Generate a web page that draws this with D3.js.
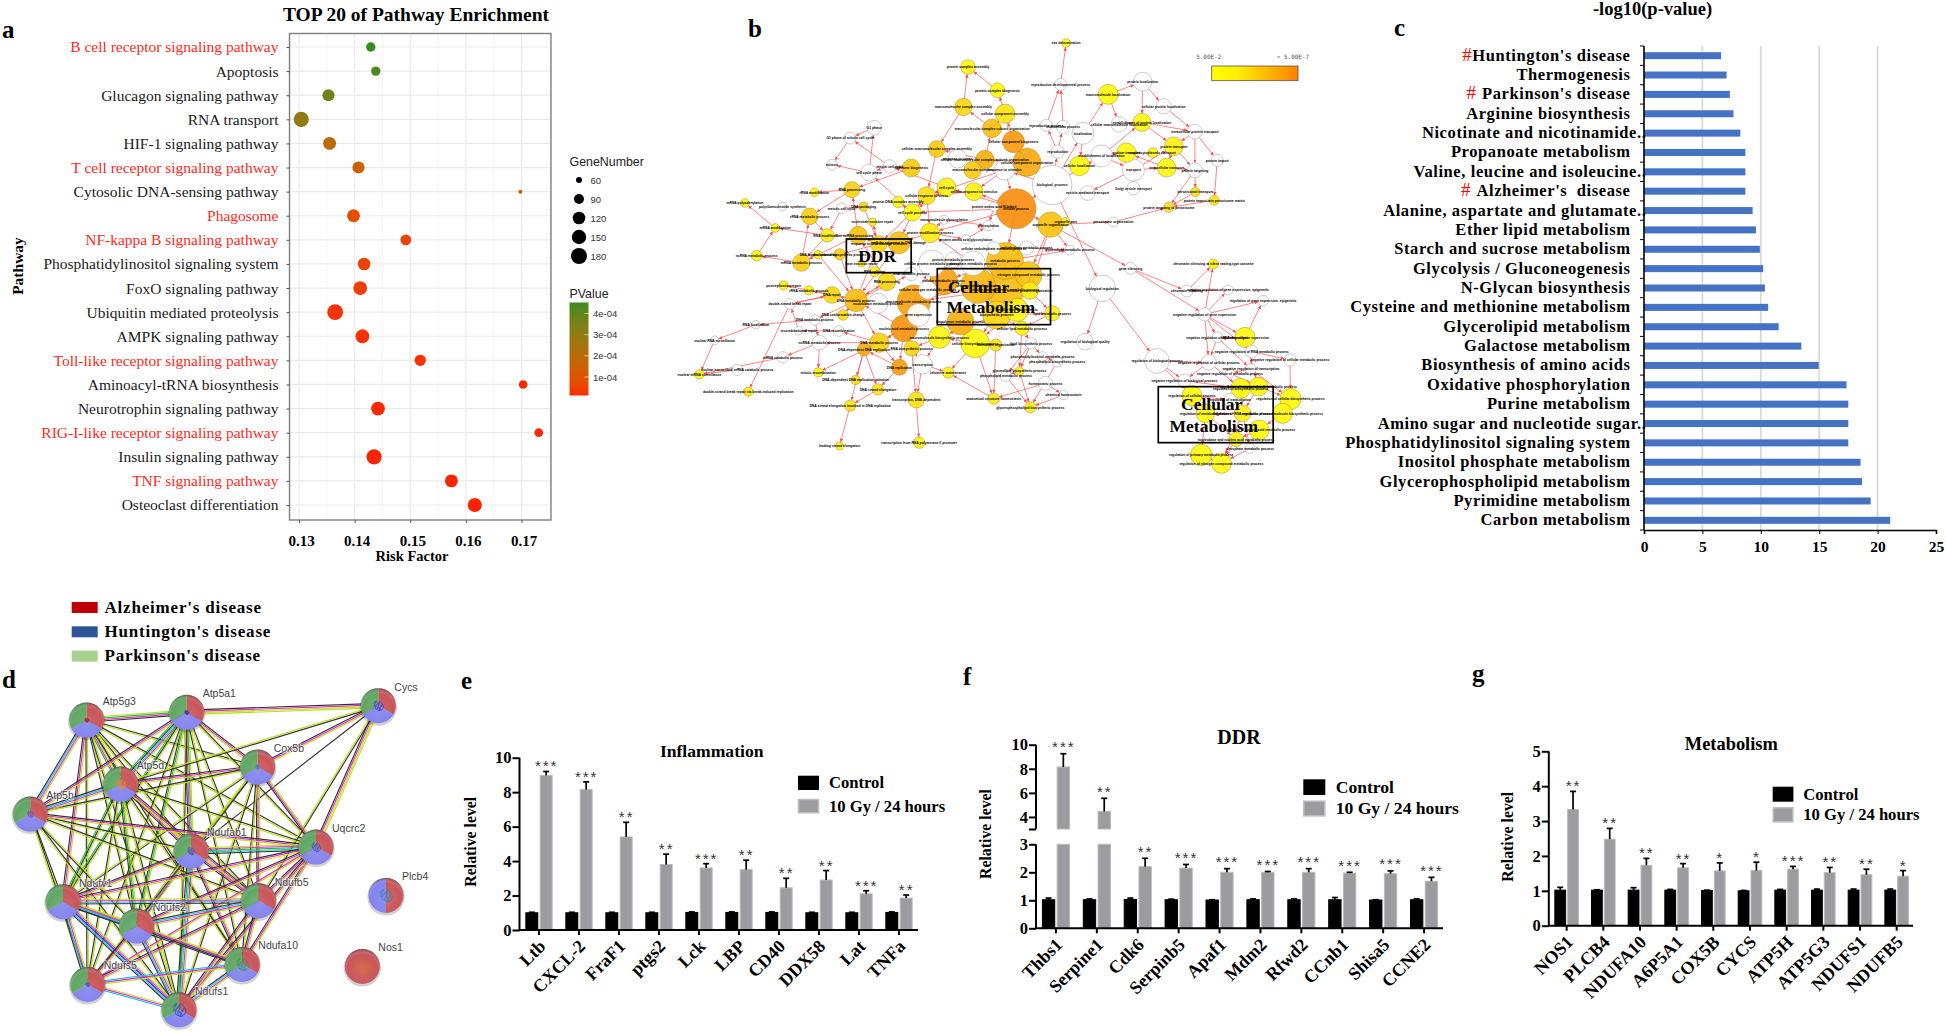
<!DOCTYPE html>
<html>
<head>
<meta charset="utf-8">
<script src="https://cdn.jsdelivr.net/npm/d3@7"></script>
<style>
  html, body { margin: 0; background: #fff; }
  svg { display: block; }
</style>
</head>
<body>
<svg id="fig" width="1946" height="1033"></svg>
<script>
// ---- panel a: pathway enrichment ----
const aPathways = ['B cell receptor signaling pathway', 'Apoptosis', 'Glucagon signaling pathway', 'RNA transport', 'HIF-1 signaling pathway', 'T cell receptor signaling pathway', 'Cytosolic DNA-sensing pathway', 'Phagosome', 'NF-kappa B signaling pathway', 'Phosphatidylinositol signaling system', 'FoxO signaling pathway', 'Ubiquitin mediated proteolysis', 'AMPK signaling pathway', 'Toll-like receptor signaling pathway', 'Aminoacyl-tRNA biosynthesis', 'Neurotrophin signaling pathway', 'RIG-I-like receptor signaling pathway', 'Insulin signaling pathway', 'TNF signaling pathway', 'Osteoclast differentiation'];
const aRedPathways = ['B cell receptor signaling pathway', 'T cell receptor signaling pathway', 'Phagosome', 'NF-kappa B signaling pathway', 'Toll-like receptor signaling pathway', 'RIG-I-like receptor signaling pathway', 'TNF signaling pathway'];
const aRisk = [0.1429, 0.1438, 0.1353, 0.1304, 0.1355, 0.1407, 0.1698, 0.1398, 0.1492, 0.1417, 0.1410, 0.1365, 0.1414, 0.1518, 0.1703, 0.1442, 0.1731, 0.1435, 0.1574, 0.1616];
const aGenes = [85, 85, 115, 165, 125, 115, 45, 125, 100, 120, 140, 175, 140, 105, 80, 140, 80, 165, 125, 145];
const aP = [4.6e-4, 4.3e-4, 3.7e-4, 3.0e-4, 1.9e-4, 1.5e-4, 1.2e-4, 0.8e-4, 0.6e-4, 0.5e-4, 0.4e-4, 0.2e-4, 0.2e-4, 0.2e-4, 0.1e-4, 0.1e-4, 0.1e-4, 0.05e-4, 0.05e-4, 0.03e-4];
const aRiskTicks = [0.13, 0.14, 0.15, 0.16, 0.17];
const aGeneLegend = [60, 90, 120, 150, 180];
const aPTicks = [4e-4, 3e-4, 2e-4, 1e-4];

// ---- panel b: GO network, layout units ----
// [name, layout x, layout y, size, enrichment level (null = not enriched)]
const bNodes = [
  ['sex determination', 941, 129, 13, .1], ['protein complex assembly', 708, 201, 22, .1], ['protein complex biogenesis', 778, 271, 22, .05],
  ['macromolecular complex assembly', 697, 321, 26, .3], ['cellular component assembly', 796, 341, 29, .2], ['macromolecular complex subunit organization', 765, 385, 28, .5],
  ['cellular component biogenesis', 816, 425, 33, .75], ['cellular component organization', 848, 487, 42, .65], ['cellular macromolecular complex assembly', 634, 447, 25, .4],
  ['response to stress', 683, 476, 28, null], ['cellular macromolecular complex subunit organization', 748, 479, 28, .6], ['macromolecular complex', 719, 510, 26, .4],
  ['response to stimulus', 795, 510, 30, null], ['biological_process', 908, 555, 59, null], ['reproductive developmental process', 928, 253, 18, null],
  ['reproductive process', 894, 376, 18, null], ['multicellular process', 934, 381, 20, null], ['reproduction', 921, 455, 20, null],
  ['localization', 981, 400, 33, null], ['establishment of localization', 1025, 468, 33, null], ['macromolecule localization', 1041, 283, 30, .05],
  ['protein localization', 1123, 245, 28, null], ['cellular protein localization', 1173, 319, 23, null], ['cellular macromolecule localization', 1067, 373, 24, null],
  ['establishment of protein localization', 1121, 367, 27, .05], ['intracellular protein transport', 1247, 395, 22, null], ['protein transport', 1197, 439, 28, .1],
  ['nuclear transport', 1084, 458, 29, .05], ['nucleocytoplasmic transport', 1147, 458, 15, .05], ['cellular localization', 973, 497, 30, .05],
  ['transport', 1101, 510, 33, null], ['intracellular transport', 1180, 503, 28, .05], ['protein import', 1300, 481, 18, null],
  ['protein targeting', 1247, 511, 22, null], ['vesicle-mediated transport', 992, 579, 22, null], ['Golgi vesicle transport', 1101, 565, 20, null],
  ['peroxisomal transport', 1248, 576, 14, .25], ['protein import into peroxisome matrix', 1293, 601, 15, .2], ['protein targeting to peroxisome', 1185, 622, 15, .2],
  ['peroxisome organization', 1053, 666, 15, null], ['G1 phase', 485, 383, 22, null], ['G1 phase of mitotic cell cycle', 428, 414, 18, null],
  ['mitosis', 385, 494, 16, null], ['cell cycle phase', 473, 518, 25, null], ['mitotic cell cycle', 522, 499, 20, null],
  ['ribosome biogenesis', 573, 504, 27, .4], ['cell cycle', 657, 562, 28, .1], ['cellular response to stimulus', 722, 575, 27, .1],
  ['cellular response to stress', 610, 587, 27, .25], ['cellular process', 822, 626, 60, .85], ['mRNA polyadenylation', 178, 609, 13, .05],
  ['polyribonucleotide synthesis', 267, 620, 13, null], ['rRNA modification', 343, 577, 13, .05], ['RNA processing', 432, 569, 24, .35],
  ['meiotic cell cycle', 408, 625, 16, null], ['DNA packaging', 460, 620, 14, .3], ['protein-DNA complex assembly', 542, 606, 17, .05],
  ['cell cycle process', 576, 637, 26, .05], ['rRNA metabolic process', 332, 649, 25, .35], ['mRNA modification', 250, 684, 13, .05],
  ['RNA modification', 374, 706, 20, .15], ['ncRNA processing', 447, 706, 27, .45], ['nucleotide excision repair', 481, 666, 12, .1],
  ['response to DNA damage stimulus', 496, 732, 25, .3], ['cellular response to DNA damage', 544, 728, 33, .5], ['protein modification process', 618, 699, 29, .15],
  ['protein amino acid glycosylation', 703, 718, 14, null], ['glycosylation', 756, 677, 16, null], ['macromolecule glycosylation', 651, 659, 14, null],
  ['protein amino acid N-linked', 770, 620, 14, null], ['carbohydrate metabolic process', 847, 744, 21, null], ['metabolic process', 796, 783, 55, .5],
  ['cellular carbohydrate metabolic process', 769, 745, 20, null], ['organelle part', 940, 665, 13, .15], ['organelle organization', 904, 674, 38, .45],
  ['glycerolipid metabolic process', 950, 750, 15, null], ['ncRNA metabolic process', 206, 767, 16, .05], ['mRNA metabolic process', 312, 788, 26, .35],
  ['DNA duplex unwinding', 352, 764, 13, .1], ['nucleobase biosynthetic process', 403, 763, 17, .35], ['base excision repair', 455, 790, 11, .1],
  ['cellular protein metabolic process', 622, 790, 40, null], ['protein metabolic process', 673, 780, 24, null], ['phosphate metabolic process', 720, 790, 37, null],
  ['RNA splicing', 486, 815, 15, .1], ['RNA catabolic process', 573, 822, 20, null], ['RNA processing', 515, 845, 27, .3],
  ['cellular metabolic process', 650, 843, 42, .7], ['primary metabolic process', 732, 858, 52, .55], ['cellular macromolecule metabolic process', 796, 868, 58, .5],
  ['nitrogen compound metabolic process', 852, 825, 40, .45], ['cellular protein organization', 855, 872, 26, .15], ['postreplication repair', 270, 856, 14, .1],
  ['tRNA metabolic process', 330, 871, 14, .1], ['DNA repair', 385, 885, 25, .3], ['DNA metabolic process', 442, 901, 34, .5],
  ['nucleobase metabolic process', 494, 910, 30, null], ['macromolecule metabolic process', 579, 905, 50, .7], ['cellular nitrogen metabolic process', 612, 870, 28, null],
  ['gene expression', 590, 945, 34, null], ['nucleic acid metabolic process', 556, 985, 40, .8], ['biopolymer metabolic process', 690, 965, 40, .6],
  ['biosynthetic process', 776, 945, 42, .3], ['cellular lipid biosynthesis', 824, 930, 35, .1], ['lipid metabolic process', 908, 940, 23, .1],
  ['double-strand break repair', 285, 912, 16, null], ['DNA metabolic process', 344, 960, 16, null], ['DNA conformation change', 411, 945, 16, .25],
  ['RNA localization', 204, 974, 13, null], ['recombinational repair', 306, 992, 13, null], ['DNA recombination', 401, 993, 16, null],
  ['cellular lipid metabolic process', 836, 985, 21, .1], ['nuclear RNA surveillance', 106, 1021, 13, null], ['ncRNA metabolic process', 355, 1028, 22, null],
  ['DNA metabolic process', 497, 1028, 29, .35], ['macromolecule biosynthetic process', 640, 1012, 33, .1], ['cellular biosynthetic process', 725, 1030, 43, .05],
  ['RNA biosynthetic process', 574, 1045, 23, .3], ['membrane organization', 774, 1035, 18, .2], ['lipid biosynthetic process', 858, 1030, 17, null],
  ['DNA-dependent DNA replication', 461, 1048, 20, .65], ['mRNA catabolic process', 268, 1072, 17, null], ['nuclear transcribed mRNA catabolic process', 160, 1110, 17, null],
  ['nuclear mRNA surveillance', 70, 1123, 14, .05], ['mitotic recombination', 352, 1117, 14, .05], ['DNA replication', 545, 1102, 24, .75],
  ['transcription', 600, 1093, 29, null], ['telomere maintenance', 661, 1118, 17, .1], ['glycerolipid biosynthetic process', 830, 1113, 13, .1],
  ['phospholipid metabolic process', 798, 1127, 17, null], ['phosphatidylinositol metabolic process', 885, 1070, 15, null], ['phospholipid biosynthetic process', 920, 1085, 16, null],
  ['homeostatic process', 892, 1150, 21, null], ['chemical homeostasis', 935, 1185, 14, null], ['DNA-dependent DNA replication initiation', 441, 1140, 14, .25],
  ['DNA strand elongation', 494, 1168, 17, .2], ['double-strand break repair via break-induced replication', 186, 1175, 14, .15], ['anatomical structure homeostasis', 769, 1196, 17, .15],
  ['glycerophospholipid biosynthetic process', 856, 1222, 17, .1], ['DNA strand elongation involved in DNA replication', 428, 1217, 17, .2], ['transcription, DNA-dependent', 585, 1200, 24, .2],
  ['transcription from RNA polymerase II promoter', 592, 1328, 17, .1], ['leading strand elongation', 403, 1338, 12, .05], ['gene silencing', 1094, 805, 18, null],
  ['biological regulation', 1027, 865, 40, null], ['chromatin silencing at silent mating-type cassette', 1291, 792, 15, .1], ['chromatin silencing', 1228, 873, 18, null],
  ['negative regulation of gene expression, epigenetic', 1326, 870, 15, null], ['regulation of gene expression, epigenetic', 1409, 902, 16, null], ['negative regulation of gene expression', 1270, 943, 20, null],
  ['regulation of gene expression', 1366, 1012, 30, .05], ['negative regulation of DNA-dependent', 1300, 1012, 16, null], ['regulation of biological quality', 986, 1025, 25, null],
  ['regulation of biological process', 1157, 1083, 37, null], ['negative regulation of cellular process', 1280, 1087, 23, null], ['negative regulation of RNA metabolic process', 1382, 1055, 19, null],
  ['negative regulation of cellular metabolic process', 1473, 1080, 18, null], ['negative regulation of transcription', 1380, 1107, 16, null], ['negative regulation of biological process', 1222, 1142, 20, null],
  ['negative regulation of metabolic process', 1330, 1120, 14, null], ['regulation of biosynthetic process', 1356, 1165, 30, .05], ['regulation of macromolecule metabolic process', 1398, 1160, 28, .05],
  ['regulation of cellular process', 1240, 1187, 30, .05], ['regulation of cellular biosynthetic process', 1474, 1197, 32, .05], ['regulation of transcription', 1330, 1200, 20, null],
  ['regulation of RNA metabolic process', 1360, 1240, 25, .1], ['regulation of macromolecule biosynthetic process', 1455, 1240, 30, .05], ['regulation of nucleic acid metabolic process', 1400, 1290, 30, .05],
  ['regulation of metabolic process', 1272, 1240, 28, .05], ['nucleobase and nucleic acid metabolic process', 1345, 1318, 22, .05], ['phosphate metabolic process', 1378, 1345, 15, null],
  ['regulation of primary metabolic process', 1262, 1365, 32, .05], ['regulation of nitrogen compound metabolic process', 1310, 1390, 30, .05]
];
const bEdges = [
  [14,0],[15,14],[16,14],[17,15],[17,16],[13,17],[2,1],[4,2],[3,1],[5,3],[5,4],[6,4],[7,6],[10,5],[10,8],[3,8],[7,10],[8,48],
  [13,7],[13,12],[13,49],[13,18],[13,19],[18,20],[18,29],[19,30],[19,24],[20,21],[20,23],[21,22],[21,24],[23,24],[24,25],[24,26],
  [25,26],[25,32],[25,33],[22,25],[26,31],[30,26],[30,31],[31,27],[30,27],[19,27],[30,35],[30,34],[31,33],[33,38],[36,38],[37,38],
  [32,37],[26,33],[33,36],[39,38],[74,39],[74,73],[40,41],[41,42],[44,41],[43,40],[44,43],[43,42],[46,44],[46,48],[44,45],[45,53],
  [49,46],[49,47],[47,48],[48,57],[57,56],[46,57],[57,43],[49,65],[49,74],[49,71],[12,47],[12,49],[12,48],[53,52],[53,58],[58,60],
  [60,59],[59,50],[76,59],[60,77],[77,58],[61,60],[61,53],[86,61],[63,62],[63,79],[95,94],[94,92],[94,105],[94,93],[95,107],[95,63],
  [64,63],[65,66],[65,68],[66,67],[68,67],[69,67],[71,87],[71,88],[71,70],[70,72],[88,89],[87,97],[88,97],[89,97],[97,100],[97,81],
  [81,82],[82,83],[90,91],[71,90],[74,91],[102,116],[102,115],[116,115],[116,118],[102,111],[104,111],[111,119],[119,130],[119,128],
  [128,129],[129,138],[128,138],[130,131],[131,138],[132,137],[132,133],[133,138],[137,127],[100,95],[100,114],[100,117],[95,114],
  [114,120],[114,125],[120,134],[120,139],[120,135],[125,120],[125,135],[114,124],[114,113],[113,121],[121,123],[122,123],[112,123],
  [108,112],[109,105],[110,109],[114,110],[95,106],[106,108],[105,136],[117,126],[126,140],[140,141],[117,140],[139,142],[135,139],
  [95,86],[95,85],[74,143],[143,146],[143,149],[146,145],[149,147],[147,146],[149,148],[144,153],[144,152],[13,144],[153,158],[153,162],
  [149,150],[150,151],[149,151],[149,154],[149,155],[150,161],[150,148],[150,155],[151,157],[154,158],[155,156],[155,157],[157,159],
  [156,163],[157,163],[158,160],[158,162],[159,161],[160,165],[161,163],[161,165],[162,168],[165,168],[163,166],[166,167],[167,169],
  [168,171],[168,169],[165,172],[169,172],[170,172],[171,172],[165,170],[164,160],[162,164],[154,160],[153,154],[151,154],[149,145],
  [48,65],[57,63],[57,64],[65,64],[54,60],[54,55],[55,63],[61,63],[79,95],[77,76],[78,95],[61,77],[64,95],[86,95],[100,125],[100,120],
  [115,117],[115,126],[126,127],[116,137],[116,127],[118,137],[111,128],[119,129],[105,94],[106,113],[113,124],[83,65],[70,75],[74,75],
  [71,75],[49,57],[74,90],[71,89],[90,88],[91,104],[102,104],[103,116]
];
const bBoxes = [[419, 717, 573, 818], [635, 806, 904, 974], [1160, 1160, 1433, 1328]];
const bBoxLabels = [['DDR', 492, 768], ['Cellular', 733, 862], ['Metabolism', 762, 922], ['Cellular', 1287, 1213], ['Metabolism', 1292, 1277]];

// ---- panel c: -log10(p-value) ----
const cPathways = ["Huntington's disease", 'Thermogenesis', "Parkinson's disease", 'Arginine biosynthesis', 'Nicotinate and nicotinamide..', 'Propanoate metabolism', 'Valine, leucine and isoleucine..', "Alzheimer's  disease", 'Alanine, aspartate and glutamate..', 'Ether lipid metabolism', 'Starch and sucrose metabolism', 'Glycolysis / Gluconeogenesis', 'N-Glycan biosynthesis', 'Cysteine and methionine metabolism', 'Glycerolipid metabolism', 'Galactose metabolism', 'Biosynthesis of amino acids', 'Oxidative phosphorylation', 'Purine metabolism', 'Amino sugar and nucleotide sugar..', 'Phosphatidylinositol signaling system', 'Inositol phosphate metabolism', 'Glycerophospholipid metabolism', 'Pyrimidine metabolism', 'Carbon metabolism'];
const cValues = [6.6, 7.07, 7.35, 7.66, 8.25, 8.68, 8.68, 8.68, 9.3, 9.58, 9.92, 10.2, 10.35, 10.63, 11.53, 13.47, 14.96, 17.34, 17.49, 17.49, 17.49, 18.54, 18.67, 19.41, 21.08];
const cHashed = ["Huntington's disease", "Parkinson's disease", "Alzheimer's  disease"];
const cTicks = [0, 5, 10, 15, 20, 25];

// ---- panel d: STRING network ----
const dProteins = ['Atp5g3', 'Atp5a1', 'Cycs', 'Cox5b', 'Atp5d', 'Atp5h', 'Ndufab1', 'Uqcrc2', 'Ndufv1', 'Ndufb5', 'Ndufs2', 'Ndufa10', 'Ndufs5', 'Ndufs1', 'Plcb4', 'Nos1'];
const dLayoutX = [260, 560, 1135, 773, 362, 91, 573, 948, 189, 776, 410, 727, 263, 537, 1158, 1087];
const dLayoutY = [390, 367, 347, 531, 582, 672, 783, 771, 935, 932, 1008, 1123, 1183, 1259, 916, 1129];
const dDiseases = ['Alzheimer', 'Huntington', 'Parkinson'];
const dProteinDiseases = { Plcb4: ['Alzheimer', 'Huntington'], Nos1: ['Alzheimer'] };
// [protein, protein, evidence letters]
const dEdges = [
  [0,1,'ygmk'],[0,3,'ky'],[0,4,'kymg'],[0,5,'ymck'],[0,6,'ky'],[0,7,'ky'],[0,8,'ymk'],[0,9,'ky'],[0,10,'yk'],[0,11,'yk'],[0,12,'yk'],[0,13,'yk'],
  [1,2,'kmyy'],[1,3,'kmy'],[1,4,'ymckg'],[1,5,'ymk'],[1,6,'ygmk'],[1,7,'ky'],[1,8,'ykg'],[1,9,'ky'],[1,10,'ygk'],[1,11,'yk'],[1,12,'yk'],[1,13,'ky'],
  [2,3,'ymk'],[2,4,'ky'],[2,6,'k'],[2,7,'yymk'],[2,9,'ky'],
  [3,4,'ymk'],[3,5,'yk'],[3,6,'ky'],[3,7,'ymk'],[3,8,'ky'],[3,9,'ymk'],[3,10,'ky'],[3,11,'yk'],[3,13,'ky'],
  [4,5,'ymck'],[4,6,'ymk'],[4,7,'ky'],[4,8,'ykg'],[4,9,'kmy'],[4,10,'ygk'],[4,11,'ky'],[4,12,'yk'],[4,13,'ky'],
  [5,6,'ky'],[5,7,'kmy'],[5,8,'ky'],[5,9,'ky'],[5,10,'yk'],[5,12,'ky'],[5,13,'ky'],
  [6,7,'ymgck'],[6,8,'ymk'],[6,9,'ymk'],[6,10,'ymck'],[6,11,'ymk'],[6,12,'ky'],[6,13,'ymcgk'],
  [7,8,'ymk'],[7,9,'ymk'],[7,10,'ymk'],[7,11,'ymk'],[7,12,'ym'],[7,13,'ymk'],
  [8,9,'ymck'],[8,10,'ymck'],[8,11,'ymck'],[8,12,'ymck'],[8,13,'ymbck'],
  [9,10,'ymck'],[9,11,'ymk'],[9,12,'ymk'],[9,13,'ymk'],
  [10,11,'ymk'],[10,12,'ymk'],[10,13,'ymck'],[11,12,'ymc'],[11,13,'ymck'],[12,13,'ymc']
];
const dLegend = ["Alzheimer's disease", "Huntington's disease", "Parkinson's disease"];
// protein cartoon inside the sphere: [colour, extent]
const dCartoons = { Nos1: ['#d9601a', 1], Plcb4: ['#2a7fc0', .75], Cycs: ['#3c3cd0', .6], Ndufs1: ['#2a48c0', .8], Ndufa10: ['#2a8f60', .75], Atp5d: ['#e08020', .6], Uqcrc2: ['#3c50c8', .55], Ndufab1: ['#4a4ab8', .45], Atp5a1: ['#3a20a0', .25], Atp5g3: ['#a01818', .25], Atp5h: ['#7a4ab0', .4], Ndufs5: ['#3c50c8', .25], Cox5b: ['#5a6ac0', .25] };
const dCartoonX = [-.55, -.2, -.45, .1, -.15, .4, .05, .55, .15, -.3, .3, -.05];
const dCartoonY = [-.2, -.5, .1, -.3, .4, -.1, .55, .2, -.45, .3, .5, .05];

// ---- panels e, f, g: qPCR bars ----
const barSeries = ['Control', '10 Gy / 24 hours'];

const eGenes = ['Ltb', 'CXCL-2', 'FraF1', 'ptgs2', 'Lck', 'LBP', 'CD40', 'DDX58', 'Lat', 'TNFa'];
const eControl = [1, 1, 1, 1, 1.02, 1.02, 1.02, 1, 1, 1.02];
const eControlTop = [1.03, 1.03, 1.03, 1.03, 1.05, 1.05, 1.05, 1.03, 1.03, 1.05];
const eTreated = [8.97, 8.15, 5.4, 3.8, 3.6, 3.5, 2.45, 2.9, 2.1, 1.85];
const eTreatedTop = [9.2, 8.6, 6.25, 4.4, 3.85, 4.05, 3.0, 3.45, 2.28, 2.03];
const eStars = ['***', '***', '**', '**', '***', '**', '**', '**', '***', '**'];
const eTicks = [0, 2, 4, 6, 8, 10];

const fGenes = ['Thbs1', 'Serpine1', 'Cdk6', 'Serpinb5', 'Apaf1', 'Mdm2', 'Rfwd2', 'CCnb1', 'Shisa5', 'CCNE2'];
const fControl = [1.02, 1.02, 1.03, 1.02, 1.01, 1.02, 1.02, 1.02, 1.01, 1.02];
const fControlTop = [1.08, 1.05, 1.08, 1.04, 1.02, 1.05, 1.05, 1.1, 1.02, 1.05];
const fTreated = [8.15, 4.45, 2.2, 2.15, 2.0, 2.0, 2.0, 1.97, 1.95, 1.68];
const fTreatedTop = [9.25, 5.55, 2.5, 2.28, 2.13, 2.03, 2.13, 2.0, 2.05, 1.82];
const fStars = ['***', '**', '**', '***', '***', '***', '***', '***', '***', '***'];

const gGenes = ['NOS1', 'PLCB4', 'NDUFA10', 'A6P5A1', 'COX5B', 'CYCS', 'ATP5H', 'ATP5G3', 'NDUFS1', 'NDUFB5'];
const gControl = [1.02, 1.02, 1.02, 1.02, 1.01, 1.0, 1.02, 1.02, 1.02, 1.02];
const gControlTop = [1.1, 1.03, 1.09, 1.04, 1.02, 1.01, 1.04, 1.05, 1.05, 1.05];
const gTreated = [3.33, 2.48, 1.73, 1.66, 1.57, 1.58, 1.62, 1.52, 1.46, 1.42];
const gTreatedTop = [3.85, 2.79, 1.93, 1.78, 1.8, 1.82, 1.7, 1.67, 1.62, 1.58];
const gStars = ['**', '**', '**', '**', '*', '*', '***', '**', '**', '*'];
const gTicks = [0, 1, 2, 3, 4, 5];

const svg = d3.select('#fig');
const defs = svg.append('defs');
const SERIF = '"Liberation Serif", serif';
const SANS = '"Liberation Sans", Arial, sans-serif';

// small helper for plain labels
function label(parent, txt, x, y, size, opts = {}) {
  return parent.append('text')
    .attr('x', x).attr('y', y)
    .attr('font-size', size)
    .attr('font-weight', opts.weight || 'bold')
    .attr('font-family', opts.family || SERIF)
    .attr('fill', opts.fill || '#000')
    .attr('text-anchor', opts.anchor || 'middle')
    .attr('letter-spacing', opts.spacing || null)
    .attr('transform', opts.rotate ? `rotate(${opts.rotate} ${x} ${y})` : null)
    .text(txt);
}

// panel letters
[['a', 2, 38], ['b', 748, 37], ['c', 1394, 36], ['d', 2, 688], ['e', 461, 689], ['f', 963, 685], ['g', 1472, 682]]
  .forEach(d => label(svg, d[0], d[1], d[2], 25, { anchor: 'start' }));

// ================ panel a ================
function drawPanelA() {
  const g = svg.append('g');
  const x = d3.scaleLinear().domain([0.13, 0.17]).range([299, 521.5]);
  const y = d3.scalePoint().domain(aPathways).range([47, 505]);
  const r = d3.scaleLinear().domain(aGeneLegend).range([3, 5, 6.3, 7.2, 8]);
  const colour = d3.scaleLinear().domain([0, 4.7e-4]).range(['#ff2000', '#2e8b22']).interpolate(d3.interpolateLab);
  const left = 289.5, right = 551, top = 33.5, bottom = 520;

  // grid
  g.selectAll('.minor').data(d3.range(0.135, 0.176, 0.01)).enter().append('line')
    .attr('x1', d => x(d)).attr('x2', d => x(d)).attr('y1', top).attr('y2', bottom)
    .attr('stroke', '#f0f0f0').attr('stroke-width', 0.7);
  g.selectAll('.vgrid').data(aRiskTicks).enter().append('line')
    .attr('x1', d => x(d)).attr('x2', d => x(d)).attr('y1', top).attr('y2', bottom)
    .attr('stroke', '#ebebeb').attr('stroke-width', 1.2);
  g.selectAll('.hgrid').data(aPathways).enter().append('line')
    .attr('x1', left).attr('x2', right).attr('y1', d => y(d)).attr('y2', d => y(d))
    .attr('stroke', '#ebebeb').attr('stroke-width', 1.2);

  // dots
  g.selectAll('.dot').data(aPathways).enter().append('circle')
    .attr('cx', (d, i) => x(aRisk[i]))
    .attr('cy', d => y(d))
    .attr('r', (d, i) => r(aGenes[i]))
    .attr('fill', (d, i) => colour(aP[i]));

  g.append('rect').attr('x', left).attr('y', top).attr('width', right - left).attr('height', bottom - top)
    .attr('fill', 'none').attr('stroke', '#7f7f7f').attr('stroke-width', 1.4);

  // axes
  const yAxis = g.append('g').attr('transform', `translate(${left},0)`)
    .call(d3.axisLeft(y).tickSize(3).tickPadding(8));
  yAxis.select('.domain').remove();
  yAxis.selectAll('line').attr('stroke', '#555');
  yAxis.selectAll('text')
    .attr('font-size', 15.5).attr('font-family', SERIF)
    .attr('fill', d => aRedPathways.includes(d) ? '#ff2a1a' : '#1a1a1a');

  const xAxis = g.append('g').attr('transform', `translate(0,${bottom})`)
    .call(d3.axisBottom(x).tickValues(aRiskTicks).tickFormat(d3.format('.2f')).tickSize(3).tickPadding(12));
  xAxis.select('.domain').remove();
  xAxis.selectAll('line').attr('stroke', '#555');
  xAxis.selectAll('text').attr('font-size', 15).attr('font-weight', 'bold').attr('font-family', SERIF).attr('fill', '#000').attr('dx', 2);

  label(svg, 'TOP 20 of Pathway Enrichment', 416, 21, 19.5);
  label(svg, 'Risk Factor', 412, 561, 14.5);
  label(svg, 'Pathway', 23, 266, 15.5, { rotate: -90 });

  // size legend
  label(g, 'GeneNumber', 569.5, 166, 12.4, { anchor: 'start', weight: 'normal', family: SANS, fill: '#222' });
  const legY = d3.scalePoint().domain(aGeneLegend).range([180, 256]);
  aGeneLegend.forEach(n => {
    g.append('circle').attr('cx', 579).attr('cy', legY(n)).attr('r', r(n)).attr('fill', '#000');
    label(g, n, 590.5, legY(n) + 3.5, 9.5, { anchor: 'start', weight: 'normal', family: SANS, fill: '#333' });
  });

  // colour bar
  label(g, 'PValue', 569.5, 298, 12.4, { anchor: 'start', weight: 'normal', family: SANS, fill: '#222' });
  const barY = d3.scaleLinear().domain([4e-4, 1e-4]).range([313.5, 377]);
  const bar = defs.append('linearGradient').attr('id', 'pbar').attr('x1', 0).attr('x2', 0).attr('y1', 0).attr('y2', 1);
  d3.range(0, 1.01, 0.1).forEach(t => {
    bar.append('stop').attr('offset', t).attr('stop-color', colour(barY.invert(302.5 + t * 93)));
  });
  g.append('rect').attr('x', 569.5).attr('y', 302.5).attr('width', 19).attr('height', 93).attr('fill', 'url(#pbar)');
  aPTicks.forEach(p => {
    g.append('line').attr('x1', 584.5).attr('x2', 588.5).attr('y1', barY(p)).attr('y2', barY(p)).attr('stroke', '#fff').attr('stroke-width', 0.6);
    label(g, d3.format('.0e')(p).replace('e-', 'e-0'), 593, barY(p) + 3.5, 9.5, { anchor: 'start', weight: 'normal', family: SANS, fill: '#333' });
  });
}
drawPanelA();

// ================ panel b ================
function drawPanelB() {
  const g = svg.append('g');
  const x = d3.scaleLinear().domain([0, 1568]).range([670, 1330]);
  const y = d3.scaleLinear().domain([0, 1470]).range([0, 490]);
  const size = d3.scaleLinear().domain([0, 1470]).range([0, 490]);
  const colour = d3.scaleLinear().domain([0, 1]).range(['#ffff10', '#f57a10']);

  defs.append('marker').attr('id', 'arrow').attr('viewBox', '0 0 6 6').attr('refX', 6).attr('refY', 3)
    .attr('markerWidth', 5).attr('markerHeight', 5).attr('orient', 'auto')
    .append('path').attr('d', 'M0,0L6,3L0,6Z').attr('fill', '#ff4a4a');

  // edges stop at the rim of the target node
  g.selectAll('.edge').data(bEdges).enter().append('line')
    .each(function(d) {
      const a = bNodes[d[0]], b = bNodes[d[1]];
      const x1 = x(a[1]), y1 = y(a[2]), x2 = x(b[1]), y2 = y(b[2]);
      const len = Math.hypot(x2 - x1, y2 - y1) || 1;
      const rb = size(b[3]);
      d3.select(this)
        .attr('x1', x1).attr('y1', y1)
        .attr('x2', x2 - (x2 - x1) / len * rb)
        .attr('y2', y2 - (y2 - y1) / len * rb);
    })
    .attr('stroke', '#ff5050').attr('stroke-width', 0.7).attr('marker-end', 'url(#arrow)');

  // biggest first so that small nodes stay visible
  const order = bNodes.slice().sort((p, q) => q[3] - p[3]);
  g.selectAll('.node').data(order).enter().append('circle')
    .attr('cx', d => x(d[1])).attr('cy', d => y(d[2])).attr('r', d => size(d[3]))
    .attr('fill', d => d[4] === null ? '#fff' : colour(d[4]))
    .attr('fill-opacity', 0.92)
    .attr('stroke', d => d[4] === null ? '#999' : '#a08a30').attr('stroke-width', 0.5);

  g.selectAll('.nodelabel').data(bNodes).enter().append('text')
    .attr('x', d => x(d[1])).attr('y', d => y(d[2]) + 1.3)
    .attr('text-anchor', 'middle').attr('font-family', SANS).attr('font-weight', 'bold')
    .attr('font-size', 3.4).attr('fill', '#000')
    .text(d => d[0]);

  g.selectAll('.box').data(bBoxes).enter().append('rect')
    .attr('x', d => x(d[0])).attr('y', d => y(d[1]))
    .attr('width', d => x(d[2]) - x(d[0])).attr('height', d => y(d[3]) - y(d[1]))
    .attr('fill', 'none').attr('stroke', '#000').attr('stroke-width', 1.7);
  bBoxLabels.forEach(d => label(g, d[0], x(d[1]), y(d[2]) + 6, 17.5));

  // colour key
  const key = defs.append('linearGradient').attr('id', 'bkey');
  key.append('stop').attr('offset', 0).attr('stop-color', '#ffff00');
  key.append('stop').attr('offset', 0.3).attr('stop-color', '#ffee00');
  key.append('stop').attr('offset', 1).attr('stop-color', '#ff8000');
  g.append('rect').attr('x', x(1287)).attr('y', y(198)).attr('width', x(1492) - x(1287)).attr('height', y(242) - y(198))
    .attr('fill', 'url(#bkey)').attr('stroke', '#555').attr('stroke-width', 0.8);
  label(g, '5.00E-2', x(1280), y(170) + 2, 6, { weight: 'normal', family: '"DejaVu Sans Mono", monospace', fill: '#555' });
  label(g, '< 5.00E-7', x(1480), y(170) + 2, 6, { weight: 'normal', family: '"DejaVu Sans Mono", monospace', fill: '#555' });
}
drawPanelB();

// ================ panel c ================
function drawPanelC() {
  const g = svg.append('g');
  const x = d3.scaleLinear().domain([0, 25]).range([1644, 1936]);
  const y = d3.scaleBand().domain(cPathways).range([46, 530]);
  const barH = 7;

  g.selectAll('.grid').data(cTicks.slice(1, 5)).enter().append('line')
    .attr('x1', d => x(d)).attr('x2', d => x(d)).attr('y1', 46).attr('y2', 530)
    .attr('stroke', '#d9d9d9').attr('stroke-width', 1.8);

  g.selectAll('.bar').data(cPathways).enter().append('rect')
    .attr('x', x(0))
    .attr('y', d => y(d) + (y.bandwidth() - barH) / 2)
    .attr('width', (d, i) => x(cValues[i]) - x(0))
    .attr('height', barH)
    .attr('fill', '#4472c4');

  // y axis ticks sit between the categories
  g.append('line').attr('x1', x(0)).attr('x2', x(0)).attr('y1', 46).attr('y2', 530).attr('stroke', '#000').attr('stroke-width', 1.6);
  g.selectAll('.tick-y').data(cPathways.concat([null])).enter().append('line')
    .attr('x1', x(0) - 4).attr('x2', x(0))
    .attr('y1', d => d === null ? 530 : y(d)).attr('y2', d => d === null ? 530 : y(d))
    .attr('stroke', '#000').attr('stroke-width', 1);

  const xAxis = g.append('g').attr('transform', 'translate(0,530)')
    .call(d3.axisBottom(x).tickValues(cTicks).tickSize(4).tickPadding(7));
  xAxis.select('.domain').attr('stroke-width', 1.6);
  xAxis.selectAll('text').attr('font-size', 15.5).attr('font-weight', 'bold').attr('font-family', SERIF).attr('fill', '#000');

  cPathways.forEach((d, i) => {
    const trimmed = d.endsWith('..');
    const t = g.append('text')
      .attr('x', trimmed ? 1646.5 : 1630.5)
      .attr('y', y(d) + y.bandwidth() / 2 + 5)
      .attr('text-anchor', 'end').attr('font-weight', 'bold').attr('font-size', 16.5).attr('letter-spacing', 0.6).attr('font-family', SERIF);
    if (cHashed.includes(d)) {
      t.append('tspan').attr('fill', '#ff0000').attr('font-weight', 'normal').attr('font-size', 19).text(d.startsWith('Hunt') ? '#' : '# ');
    }
    t.append('tspan').style('white-space', 'pre').text(d);
  });

  label(g, '-log10(p-value)', 1652.5, 15, 18.5);
}
drawPanelC();

// ================ panel d ================
function drawPanelD() {
  const g = svg.append('g');
  const x = d3.scaleLinear().domain([0, 450]).range([0, 150]);
  const y = d3.scaleLinear().domain([0, 443]).range([590, 737.7]);
  const nodeR = 17.5;
  const evidence = { y: '#bfdc1e', k: '#333333', m: '#e02cd0', c: '#22c4dc', g: '#22b830', b: '#2a2ae0' };
  const diseaseFill = { Alzheimer: '#c9565a', Huntington: '#8484ee', Parkinson: '#62a765' };
  const swatch = ['#c00000', '#2f5597', '#a9d18e'];

  // legend
  dLegend.forEach((d, i) => {
    g.append('rect').attr('x', 71.7).attr('y', 602 + i * 24.3).attr('width', 26).attr('height', 11).attr('fill', swatch[i]);
    label(g, d, 104.5, 612.8 + i * 24.3, 17, { anchor: 'start', spacing: 0.8 });
  });

  // each evidence channel is its own thin line, side by side
  dEdges.forEach(e => {
    const x1 = x(dLayoutX[e[0]]), y1 = y(dLayoutY[e[0]]), x2 = x(dLayoutX[e[1]]), y2 = y(dLayoutY[e[1]]);
    const len = Math.hypot(x2 - x1, y2 - y1);
    const nx = -(y2 - y1) / len, ny = (x2 - x1) / len;
    e[2].split('').forEach((c, i) => {
      const off = (i - (e[2].length - 1) / 2) * 1.5;
      g.append('line')
        .attr('x1', x1 + nx * off).attr('y1', y1 + ny * off)
        .attr('x2', x2 + nx * off).attr('y2', y2 + ny * off)
        .attr('stroke', evidence[c]).attr('stroke-width', 1.15);
    });
  });

  // sphere shading on top of the coloured sectors
  const shade = defs.append('radialGradient').attr('id', 'sphere').attr('cx', '50%').attr('cy', '60%').attr('r', '62%');
  shade.append('stop').attr('offset', '0%').attr('stop-color', '#fff').attr('stop-opacity', 0.1);
  shade.append('stop').attr('offset', '72%').attr('stop-color', '#fff').attr('stop-opacity', 0);
  shade.append('stop').attr('offset', '100%').attr('stop-color', '#111').attr('stop-opacity', 0.55);

  const arc = d3.arc().innerRadius(0).outerRadius(nodeR);
  const pie = d3.pie().sort(null).value(1);
  const cartoon = d3.line().curve(d3.curveCatmullRom);
  dProteins.forEach((name, i) => {
    const px = x(dLayoutX[i]), py = y(dLayoutY[i]);
    const n = g.append('g').attr('transform', `translate(${px},${py})`);
    n.append('circle').attr('cy', 1.5).attr('r', nodeR + 1.2).attr('fill', '#000').attr('fill-opacity', 0.18);
    n.selectAll('path').data(pie(dProteinDiseases[name] || dDiseases)).enter().append('path')
      .attr('d', arc).attr('fill', d => diseaseFill[d.data]);
    if (dCartoons[name]) {
      const ext = nodeR * dCartoons[name][1] * 0.9;
      n.append('path')
        .attr('d', cartoon(dCartoonX.map((v, k) => [v * ext, dCartoonY[k] * ext])))
        .attr('fill', 'none').attr('stroke', dCartoons[name][0]).attr('stroke-width', 1);
    }
    n.append('circle').attr('r', nodeR).attr('fill', 'url(#sphere)');
    const t = label(g, name, px + 16, py - 15, 10.5, { anchor: 'start', weight: 'normal', family: SANS, fill: '#444' });
    t.attr('paint-order', 'stroke').attr('stroke', '#fff').attr('stroke-width', 1.6).attr('stroke-opacity', 0.7);
  });
}
drawPanelD();

// ================ panels e, f, g ================
function drawBars(cfg) {
  const g = svg.append('g');
  const x = d3.scaleBand().domain(cfg.genes).range(cfg.xRange);
  const sub = d3.scaleBand().domain(barSeries).range([x.bandwidth() / 2 - cfg.barW - cfg.gap / 2, x.bandwidth() / 2 + cfg.barW + cfg.gap / 2]).paddingInner(cfg.gap / (2 * cfg.barW + cfg.gap));
  // one scale per axis segment, f has a broken axis
  const segs = cfg.segments.map(s => d3.scaleLinear().domain(s.domain).range(s.range));
  const y = v => {
    const s = segs.find(q => v <= q.domain()[1]) || segs[segs.length - 1];
    return s(v);
  };

  function bar(gene, series, value, fill, stroke) {
    segs.forEach(s => {
      const lo = s.domain()[0], hi = s.domain()[1];
      if (value <= lo) return;
      const top = s(Math.min(value, hi));
      g.append('rect')
        .attr('x', x(gene) + sub(series) + 0.5).attr('y', top)
        .attr('width', sub.bandwidth() - 1).attr('height', s(lo) - top)
        .attr('fill', fill).attr('stroke', stroke).attr('stroke-width', 1);
    });
  }
  function whisker(gene, series, from, to) {
    const cx = x(gene) + sub(series) + sub.bandwidth() / 2;
    g.append('line').attr('x1', cx).attr('x2', cx).attr('y1', y(from)).attr('y2', y(to)).attr('stroke', '#000').attr('stroke-width', 1.7);
    g.append('line').attr('x1', cx - 3).attr('x2', cx + 3).attr('y1', y(to)).attr('y2', y(to)).attr('stroke', '#000').attr('stroke-width', 1.7);
  }

  cfg.genes.forEach((gene, i) => {
    bar(gene, barSeries[0], cfg.control[i], '#000', '#000');
    whisker(gene, barSeries[0], cfg.control[i], cfg.controlTop[i]);
    bar(gene, barSeries[1], cfg.treated[i], '#9c9ca0', '#b9b9b9');
    whisker(gene, barSeries[1], cfg.treated[i], cfg.treatedTop[i]);
    g.append('text')
      .attr('x', x(gene) + sub(barSeries[1]) + sub.bandwidth() / 2 + 0.5)
      .attr('y', y(cfg.treatedTop[i]) - cfg.starGap)
      .attr('text-anchor', 'middle').attr('font-family', SANS).attr('font-size', 15).attr('letter-spacing', 2).attr('fill', '#333')
      .text(cfg.stars[i]);
  });

  // axes
  const xAxis = g.append('g').attr('transform', `translate(0,${cfg.segments[0].range[0]})`)
    .call(d3.axisBottom(x).tickSize(5).tickSizeOuter(0));
  xAxis.select('.domain').attr('stroke-width', 2).attr('d', `M${cfg.xRange[0]},0H${cfg.xEnd}`);
  xAxis.selectAll('line').attr('stroke-width', 2);
  xAxis.selectAll('text')
    .attr('text-anchor', 'end').attr('font-size', 18).attr('font-weight', 'bold').attr('font-family', SERIF).attr('fill', '#000')
    .attr('x', 0).attr('y', 0).attr('dy', '0.35em')
    .attr('transform', 'translate(3,13) rotate(-45)');

  segs.forEach((s, i) => {
    const axis = g.append('g').attr('transform', `translate(${cfg.xRange[0] + 0.5},0)`)
      .call(d3.axisLeft(s).tickValues(cfg.segments[i].ticks).tickFormat(d3.format('d')).tickSize(7).tickPadding(1));
    axis.select('.domain').attr('stroke-width', 2).attr('d', `M0,${s.range()[0]}V${s.range()[1]}`);
    axis.selectAll('line').attr('stroke-width', 2);
    axis.selectAll('text').attr('font-size', 16.5).attr('font-weight', 'bold').attr('font-family', SERIF).attr('fill', '#000');
    if (cfg.segments[i].hide) axis.selectAll('text').filter(d => cfg.segments[i].hide.includes(d)).remove();
  });

  label(g, 'Relative level', cfg.yLabel[0], cfg.yLabel[1], 15.8, { rotate: -90 });
  label(g, cfg.title, cfg.titleAt[0], cfg.titleAt[1], cfg.titleSize);

  // legend
  const lg = cfg.legend;
  g.append('rect').attr('x', lg.x).attr('y', lg.y0).attr('width', lg.w).attr('height', lg.h).attr('fill', '#000');
  g.append('rect').attr('x', lg.x + 0.5).attr('y', lg.y1 + 0.5).attr('width', lg.w - 1).attr('height', lg.h - 1)
    .attr('fill', '#9c9ca0').attr('stroke', '#bdbdbd').attr('stroke-width', 1.5);
  label(g, barSeries[0], lg.tx, lg.y0 + lg.h / 2 + 5.5, lg.size, { anchor: 'start' });
  label(g, barSeries[1], lg.tx, lg.y1 + lg.h / 2 + 5.5, lg.size, { anchor: 'start' });
}

drawBars({
  genes: eGenes, control: eControl, controlTop: eControlTop, treated: eTreated, treatedTop: eTreatedTop, stars: eStars,
  xRange: [519, 919], xEnd: 918, barW: 12.3, gap: 2.7, starGap: 0,
  segments: [{ domain: [0, 10], range: [930, 757.7], ticks: eTicks }],
  yLabel: [476, 841.7], title: 'Inflammation', titleAt: [711.7, 757], titleSize: 17.6,
  legend: { x: 798, y0: 775.7, y1: 799, w: 21, h: 14.3, tx: 829, size: 16.6 }
});
drawBars({
  genes: fGenes, control: fControl, controlTop: fControlTop, treated: fTreated, treatedTop: fTreatedTop, stars: fStars,
  xRange: [1035.5, 1444.5], xEnd: 1443, barW: 12.7, gap: 2.7, starGap: 1.5,
  segments: [
    { domain: [0, 3], range: [928.3, 844.3], ticks: [0, 1, 2, 3] },
    { domain: [3, 10], range: [829, 744.7], ticks: [3, 4, 6, 8, 10], hide: [3] }
  ],
  yLabel: [991, 834], title: 'DDR', titleAt: [1239, 744], titleSize: 20,
  legend: { x: 1303.3, y0: 779.3, y1: 800.7, w: 22, h: 15.7, tx: 1335.7, size: 17.6 }
});
drawBars({
  genes: gGenes, control: gControl, controlTop: gControlTop, treated: gTreated, treatedTop: gTreatedTop, stars: gStars,
  xRange: [1548.3, 1915], xEnd: 1913, barW: 11.3, gap: 2, starGap: 0,
  segments: [{ domain: [0, 5], range: [925.7, 751.3], ticks: gTicks }],
  yLabel: [1513.5, 836.7], title: 'Metabolism', titleAt: [1731.3, 750], titleSize: 18.4,
  legend: { x: 1772.7, y0: 786.7, y1: 807.3, w: 20.7, h: 15, tx: 1803.3, size: 16.6 }
});
</script>
</body>
</html>
